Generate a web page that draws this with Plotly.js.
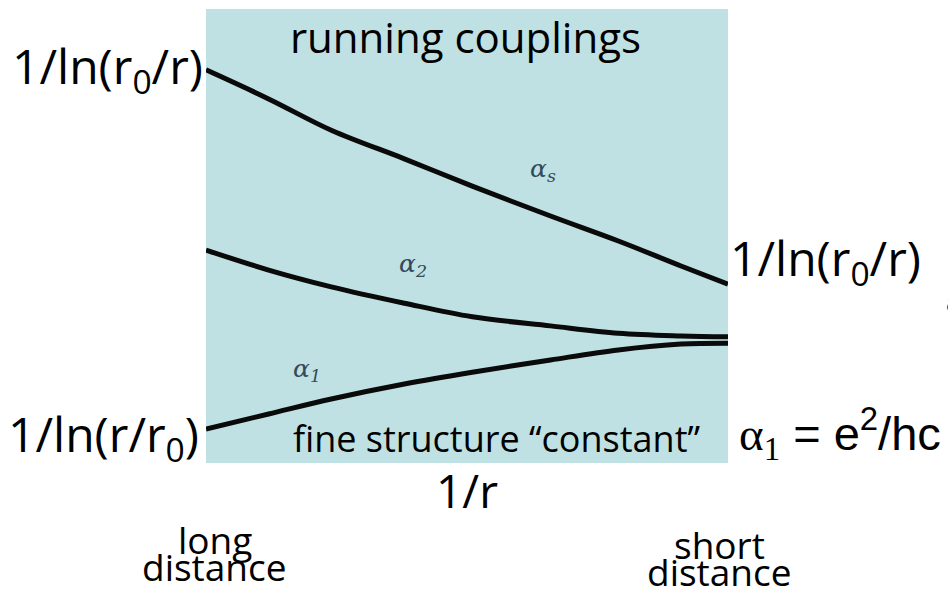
<!DOCTYPE html>
<html>
<head>
<meta charset="utf-8">
<script src="https://cdn.plot.ly/plotly-3.0.1.min.js"></script>
<style>
  html, body { margin: 0; padding: 0; background: #ffffff; }
  #chart { width: 948px; height: 591px; }
</style>
</head>
<body>
<div id="chart"></div>
<script>
// 1/r (arbitrary scale, long distance -> short distance)
const inverseR = [0, 12, 24, 38, 51, 66, 79, 91, 100];
// coupling strengths (arbitrary units)
const alphaS = [86.6, 80.2, 73.3, 67.0, 61.0, 54.4, 48.9, 43.4, 39.4];
const alpha2 = [46.9, 42.5, 38.8, 35.2, 32.2, 30.2, 28.6, 28.0, 27.8];
const alpha1 = [7.5, 10.8, 14.1, 17.4, 20.0, 22.7, 24.9, 26.2, 26.4];

const seriesNames = ['α<sub>s</sub>', 'α<sub>2</sub>', 'α<sub>1</sub>'];
const titleText = 'running couplings';
const xTitle = '1/r';
const leftTopLabel = '1/ln(r<sub>0</sub>/r)';
const leftBottomLabel = '1/ln(r/r<sub>0</sub>)';
const rightTopLabel = '1/ln(r<sub>0</sub>/r)';
const fineLabel = 'fine structure “constant”';
const alphaDef = '<span style="font-family:\'Liberation Serif\', serif">α<sub>1</sub></span> = e<sup>2</sup>/hc';
const longLabel = ['long', 'distance'];
const shortLabel = ['short', 'distance'];

const lineStyle = { color: '#0a0a0a', width: 5, shape: 'spline', smoothing: 1 };
const traces = [alphaS, alpha2, alpha1].map((ys, i) => ({
  x: inverseR, y: ys, type: 'scatter', mode: 'lines',
  name: seriesNames[i], line: lineStyle, hoverinfo: 'skip'
}));

const F = "'Open Sans', 'Noto Sans', sans-serif";
function ann(text, x, y, size, xanchor, opts) {
  return Object.assign({
    text: text, xref: 'paper', yref: 'paper', x: x, y: y,
    xanchor: xanchor || 'center', yanchor: 'middle', showarrow: false,
    font: { family: F, size: size, color: '#000' }
  }, opts || {});
}
const greekFont = () => ({ family: "'DejaVu Serif', serif", size: 25, color: '#34495a', style: 'italic' });
const sansFont = (s) => ({ family: "'Liberation Sans', Arial, sans-serif", size: s, color: '#000' });

const layout = {
  width: 948, height: 591,
  margin: { l: 206, r: 220, t: 9, b: 128, pad: 0 },
  paper_bgcolor: '#ffffff',
  plot_bgcolor: '#bfe1e3',
  showlegend: false,
  title: {
    text: titleText, font: { family: F, size: 42, color: '#000' },
    x: 0.491, xanchor: 'center', y: 0.935, yanchor: 'middle'
  },
  xaxis: {
    range: [0, 100], showgrid: false, zeroline: false, showticklabels: false,
    showline: false, ticks: '', fixedrange: true
  },
  yaxis: {
    range: [0, 100], showgrid: false, zeroline: false, showticklabels: false,
    showline: false, ticks: '', fixedrange: true
  },
  annotations: [
    ann(xTitle, 0.5, -0.060, 46, 'center'),
    ann(leftTopLabel, -0.002, 0.868, 48, 'right'),
    ann(leftBottomLabel, -0.010, 0.058, 48, 'right'),
    ann(rightTopLabel, 1.000, 0.447, 48, 'left'),
    ann(fineLabel, 0.557, 0.055, 36, 'center'),
    ann(alphaDef, 1.017, 0.066, 47, 'left', { font: sansFont(47) }),
    ann(longLabel[0], 0.017, -0.168, 37, 'center'),
    ann(longLabel[1], 0.017, -0.229, 37, 'center'),
    ann(shortLabel[0], 0.983, -0.179, 37, 'center'),
    ann(shortLabel[1], 0.983, -0.240, 37, 'center'),
    ann('a', 1.414, 0.355, 30, 'left', { font: sansFont(30) }),
    ann(seriesNames[0], 0.646, 0.645, 25, 'center', { font: greekFont() }),
    ann(seriesNames[1], 0.397, 0.436, 25, 'center', { font: greekFont() }),
    ann(seriesNames[2], 0.193, 0.205, 25, 'center', { font: greekFont() })
  ]
};

Plotly.newPlot('chart', traces, layout, { displayModeBar: false, staticPlot: true });
</script>
</body>
</html>
